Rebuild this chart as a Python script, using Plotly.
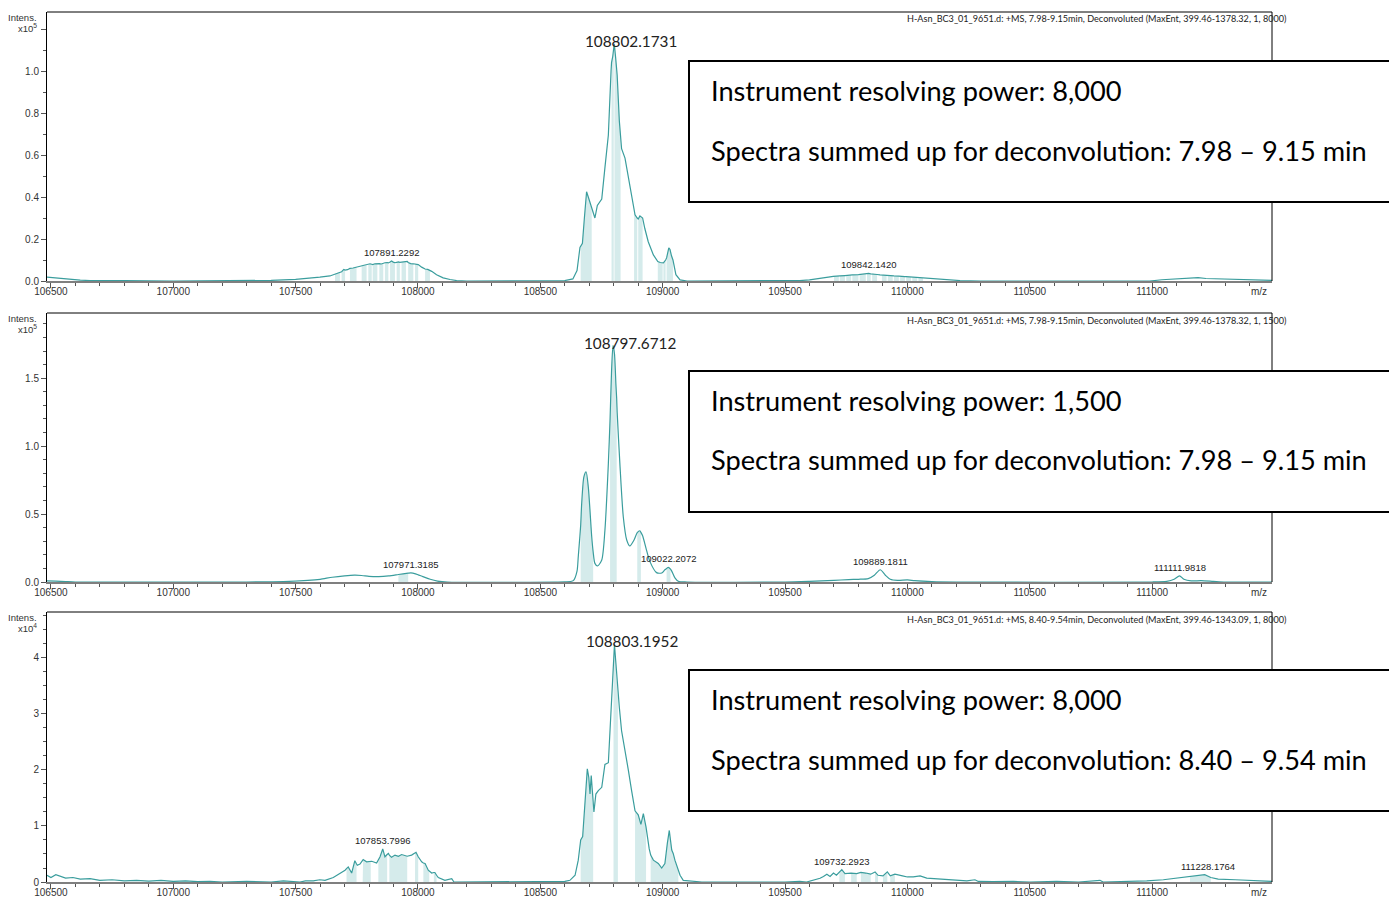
import plotly.graph_objects as go

W, H = 1389, 897
LINE = "#3a9d9d"
FILL = "rgba(150, 205, 205, 0.40)"
TXT = "#333333"

# ---------------- data (x10^5 / x10^5 / x10^4 intensities) ----------------
x_range = [106484, 111490]
x_ticks = [106500, 107000, 107500, 108000, 108500, 109000, 109500, 110000, 110500, 111000]

# Panel 1 : resolving power 8,000
p1_mz = [106484, 106500, 106530, 106560, 106590, 106620, 106660, 106700, 106800, 107000, 107300,
         107400, 107500, 107558, 107599, 107640, 107661, 107668, 107681, 107688, 107697, 107702,
         107712, 107722, 107735, 107749, 107763, 107770, 107783, 107790, 107797, 107804, 107811,
         107815, 107824, 107834, 107842, 107850, 107858, 107865, 107874, 107879, 107886, 107892,
         107899, 107906, 107913, 107920, 107926, 107933, 107942, 107951, 107956, 107960, 107970,
         107981, 107988, 107995, 108001, 108015, 108029, 108040, 108049, 108056, 108076, 108103,
         108131, 108158, 108200, 108560, 108600, 108633, 108650, 108662, 108665, 108672, 108680,
         108689, 108696, 108706, 108710, 108723, 108733, 108751, 108764, 108778, 108789, 108791,
         108796, 108800, 108802, 108803, 108808, 108814, 108823, 108828, 108832, 108846, 108860,
         108873, 108883, 108887, 108896, 108900, 108907, 108918, 108927, 108941, 108962, 108980,
         108990, 109000, 109003, 109012, 109016, 109025, 109030, 109036, 109042, 109054, 109071,
         109100, 109500, 109560, 109600, 109614, 109643, 109684, 109697, 109700, 109720, 109724,
         109745, 109750, 109770, 109775, 109800, 109805, 109830, 109835, 109842, 109850, 109856,
         109876, 109888, 109896, 109915, 109920, 109940, 109945, 109965, 109970, 109990, 109995,
         110015, 110020, 110040, 110045, 110064, 110106, 110161, 110215, 110300, 110990, 111040,
         111100, 111150, 111188, 111220, 111280, 111350, 111420, 111490]
p1_int = [0.018, 0.016, 0.012, 0.010, 0.008, 0.004, 0.002, 0.001, 0.002, 0.0, 0.0,
          0.003, 0.008, 0.012, 0.018, 0.024, 0.033, 0.037, 0.040, 0.044, 0.055, 0.052,
          0.054, 0.060, 0.062, 0.066, 0.071, 0.072, 0.075, 0.076, 0.079, 0.082, 0.080,
          0.078, 0.082, 0.084, 0.083, 0.081, 0.085, 0.087, 0.088, 0.086, 0.090, 0.095,
          0.090, 0.087, 0.089, 0.091, 0.089, 0.090, 0.092, 0.094, 0.093, 0.088, 0.083,
          0.082, 0.081, 0.080, 0.078, 0.066, 0.057, 0.055, 0.052, 0.046, 0.030, 0.015,
          0.007, 0.002, 0.0, 0.0, 0.002, 0.010, 0.050, 0.160, 0.165, 0.180, 0.300,
          0.425, 0.400, 0.360, 0.340, 0.300, 0.360, 0.390, 0.540, 0.695, 1.000, 1.040,
          1.070, 1.100, 1.130, 1.120, 1.060, 0.980, 0.760, 0.680, 0.630, 0.585, 0.490,
          0.395, 0.330, 0.315, 0.300, 0.295, 0.310, 0.300, 0.250, 0.187, 0.124, 0.093,
          0.088, 0.085, 0.086, 0.100, 0.110, 0.158, 0.150, 0.120, 0.100, 0.030, 0.005,
          0.0, 0.0, 0.002, 0.005, 0.008, 0.013, 0.020, 0.022, 0.022, 0.024, 0.024,
          0.026, 0.027, 0.028, 0.029, 0.030, 0.031, 0.033, 0.034, 0.036, 0.034, 0.034,
          0.031, 0.029, 0.028, 0.027, 0.026, 0.024, 0.024, 0.023, 0.022, 0.021, 0.021,
          0.019, 0.018, 0.017, 0.016, 0.014, 0.010, 0.005, 0.002, 0.0, 0.0, 0.006,
          0.010, 0.012, 0.016, 0.012, 0.010, 0.009, 0.006, 0.003]
p1_shade = [(107661, 107681), (107688, 107702), (107722, 107749), (107770, 107790), (107797, 107811),
            (107815, 107834), (107842, 107858), (107865, 107879), (107886, 107906), (107913, 107926),
            (107933, 107951), (107960, 107981), (107988, 108001), (108029, 108049),
            (108665, 108710), (108791, 108800), (108803, 108828), (108883, 108896), (108900, 108918),
            (108980, 109000), (109003, 109012), (109016, 109042),
            (109700, 109720), (109724, 109745), (109750, 109770), (109775, 109800), (109805, 109830),
            (109835, 109850), (109856, 109876), (109896, 109915), (109920, 109940), (109945, 109965),
            (109970, 109990), (109995, 110015), (110020, 110040), (110045, 110064)]
p1_lab_mz = [108802.1731, 107891.2292, 109842.1420]
p1_lab_int = [1.13, 0.095, 0.036]

# Panel 2 : resolving power 1,500
p2_mz = [106484, 106520, 106560, 106600, 107300, 107450, 107550, 107600, 107650, 107700, 107740,
         107770, 107800, 107840, 107880, 107920, 107960, 107971, 107990, 108020, 108050, 108080,
         108120, 108560, 108600, 108635, 108650, 108655, 108665, 108669, 108678, 108687, 108696,
         108710, 108716, 108723, 108734, 108751, 108764, 108778, 108785, 108791, 108797, 108803,
         108809, 108812, 108814, 108825, 108839, 108853, 108866, 108883, 108896, 108907, 108911,
         108918, 108932, 108948, 108975, 108996, 109009, 109016, 109023, 109032, 109037, 109050,
         109064, 109100, 109500, 109600, 109700, 109760, 109800, 109840, 109865, 109889, 109910,
         109930, 109960, 110000, 110030, 110100, 110200, 111000, 111060, 111090, 111112, 111130,
         111160, 111200, 111250, 111300, 111490]
p2_int = [0.008, 0.006, 0.003, 0.0, 0.0, 0.003, 0.012, 0.020, 0.035, 0.045, 0.050,
          0.048, 0.042, 0.040, 0.045, 0.055, 0.065, 0.067, 0.060, 0.040, 0.020, 0.007,
          0.0, 0.0, 0.001, 0.010, 0.080, 0.186, 0.420, 0.578, 0.774, 0.811, 0.700,
          0.333, 0.220, 0.137, 0.118, 0.162, 0.382, 0.873, 1.200, 1.550, 1.740, 1.680,
          1.450, 1.350, 1.250, 0.873, 0.480, 0.309, 0.265, 0.309, 0.363, 0.377, 0.365,
          0.340, 0.248, 0.150, 0.069, 0.066, 0.090, 0.100, 0.108, 0.095, 0.080, 0.030,
          0.005, 0.0, 0.0, 0.005, 0.012, 0.018, 0.020, 0.025, 0.050, 0.090, 0.050,
          0.020, 0.012, 0.015, 0.010, 0.003, 0.0, 0.0, 0.005, 0.020, 0.045, 0.020,
          0.008, 0.010, 0.005, 0.0, 0.0]
p2_shade = [(107920, 107960), (108665, 108716), (108785, 108812), (108896, 108911), (109016, 109032)]
p2_lab_mz = [108797.6712, 107971.3185, 109022.2072, 109889.1811, 111111.9818]
p2_lab_int = [1.74, 0.067, 0.108, 0.090, 0.045]

# Panel 3 : resolving power 8,000, 8.40-9.54 min
p3_mz = [106484, 106500, 106520, 106540, 106560, 106590, 106620, 106660, 106700, 106750, 106800,
         106850, 106900, 106950, 107000, 107050, 107100, 107150, 107200, 107300, 107400, 107450,
         107518, 107540, 107572, 107599, 107620, 107654, 107681, 107702, 107708, 107715, 107729,
         107742, 107749, 107752, 107763, 107774, 107776, 107790, 107807, 107811, 107831, 107838,
         107845, 107856, 107865, 107874, 107879, 107883, 107892, 107906, 107920, 107933, 107954,
         107956, 107974, 107988, 107992, 108001, 108015, 108022, 108029, 108042, 108046, 108056,
         108065, 108069, 108076, 108083, 108110, 108138, 108147, 108200, 108560, 108600, 108621,
         108642, 108655, 108665, 108673, 108680, 108687, 108692, 108698, 108703, 108708, 108714,
         108716, 108719, 108727, 108737, 108751, 108764, 108778, 108787, 108796, 108799, 108803,
         108808, 108814, 108817, 108823, 108832, 108846, 108860, 108873, 108887, 108900, 108911,
         108921, 108932, 108945, 108951, 108962, 108982, 108996, 109009, 109019, 109027, 109037,
         109043, 109050, 109060, 109064, 109071, 109084, 109125, 109160, 109500, 109560, 109588,
         109616, 109643, 109657, 109671, 109684, 109698, 109710, 109722, 109732, 109745, 109770,
         109793, 109810, 109830, 109850, 109868, 109880, 109900, 109918, 109930, 109949, 109980,
         110000, 110024, 110052, 110079, 110133, 110188, 110243, 110276, 110290, 110350, 110433,
         110500, 110610, 110700, 110787, 110800, 110900, 110978, 111046, 111101, 111155, 111215,
         111240, 111270, 111340, 111400, 111450, 111490]
p3_int = [0.12, 0.08, 0.13, 0.10, 0.07, 0.08, 0.05, 0.06, 0.03, 0.04, 0.02,
          0.03, 0.015, 0.03, 0.01, 0.02, 0.005, 0.01, 0.0, 0.01, 0.0, 0.02,
          0.0, 0.02, 0.02, 0.04, 0.03, 0.08, 0.15, 0.21, 0.24, 0.27, 0.16,
          0.38, 0.32, 0.30, 0.32, 0.38, 0.40, 0.36, 0.37, 0.37, 0.34, 0.40,
          0.45, 0.59, 0.45, 0.49, 0.51, 0.48, 0.44, 0.48, 0.46, 0.49, 0.46,
          0.46, 0.48, 0.51, 0.53, 0.45, 0.36, 0.34, 0.33, 0.21, 0.19, 0.16,
          0.17, 0.17, 0.12, 0.08, 0.03, 0.06, 0.0, 0.0, 0.0, 0.01, 0.03,
          0.12, 0.39, 0.75, 0.81, 1.28, 1.87, 2.02, 1.87, 1.57, 1.90, 1.50,
          1.35, 1.25, 1.57, 1.63, 1.69, 2.10, 2.13, 2.99, 3.70, 3.90, 4.24,
          3.95, 3.60, 3.30, 3.11, 2.70, 2.37, 1.99, 1.63, 1.27, 1.20, 1.03,
          1.22, 0.98, 0.59, 0.48, 0.39, 0.33, 0.25, 0.33, 0.69, 0.92, 0.57,
          0.51, 0.39, 0.25, 0.20, 0.12, 0.03, 0.02, 0.0, 0.0, 0.01, 0.0,
          0.03, 0.066, 0.10, 0.14, 0.10, 0.16, 0.12, 0.18, 0.22, 0.15, 0.16,
          0.15, 0.17, 0.16, 0.14, 0.18, 0.12, 0.11, 0.18, 0.11, 0.14, 0.11,
          0.09, 0.09, 0.11, 0.07, 0.05, 0.03, 0.02, 0.04, 0.01, 0.005, 0.01,
          0.0, 0.01, 0.0, 0.03, 0.0, 0.01, 0.02, 0.04, 0.07, 0.10, 0.13,
          0.08, 0.05, 0.04, 0.03, 0.02, 0.01]
p3_shade = [(107708, 107749), (107774, 107807), (107838, 107874), (107883, 107956), (107988, 108001),
            (108022, 108046), (108065, 108076),
            (108665, 108716), (108799, 108817), (108887, 108932), (108951, 109064),
            (109722, 109745), (109770, 109793), (109810, 109850), (109868, 109880), (109900, 109918),
            (109930, 109949), (111155, 111240)]
p3_lab_mz = [108803.1952, 107853.7996, 109732.2923, 111228.1764]
p3_lab_int = [4.24, 0.59, 0.22, 0.13]

# y tick values (labelled) and an extra unlabelled major tick where the exponent sits
p1_yticks = [0.0, 0.2, 0.4, 0.6, 0.8, 1.0]
p2_yticks = [0.0, 0.5, 1.0, 1.5]
p3_yticks = [0, 1, 2, 3, 4]
p1_yticks_hidden = [1.2]

headers = [
    "H-Asn_BC3_01_9651.d: +MS, 7.98-9.15min, Deconvoluted (MaxEnt, 399.46-1378.32, 1, 8000)",
    "H-Asn_BC3_01_9651.d: +MS, 7.98-9.15min, Deconvoluted (MaxEnt, 399.46-1378.32, 1, 1500)",
    "H-Asn_BC3_01_9651.d: +MS, 8.40-9.54min, Deconvoluted (MaxEnt, 399.46-1343.09, 1, 8000)",
]
box_lines = [
    ("Instrument resolving power: 8,000", "Spectra summed up for deconvolution: 7.98 – 9.15 min"),
    ("Instrument resolving power: 1,500", "Spectra summed up for deconvolution: 7.98 – 9.15 min"),
    ("Instrument resolving power: 8,000", "Spectra summed up for deconvolution: 8.40 – 9.54 min"),
]
exponents = ["5", "5", "4"]

# ---------------- layout geometry (pixels) ----------------
X_L, X_R = 47, 1272
panel_px = [(12, 281), (313, 582), (612, 882)]
y_max = [1.281, 1.98, 4.82]
y_minor = [0.1, 0.1, 0.25]
y_fmt = ["{:.1f}", "{:.1f}", "{:.0f}"]
box_px = [(61, 202), (371, 512), (670, 811)]

def pxx(p):
    return p / W

def pxy(p):
    return 1 - p / H

panels = [
    (p1_mz, p1_int, p1_shade, p1_lab_mz, p1_lab_int, p1_yticks, p1_yticks_hidden),
    (p2_mz, p2_int, p2_shade, p2_lab_mz, p2_lab_int, p2_yticks, []),
    (p3_mz, p3_int, p3_shade, p3_lab_mz, p3_lab_int, p3_yticks, []),
]

fig = go.Figure()
annotations = []
shapes = []
FONT_AX = "Liberation Sans"

for i, (mz, inten, shade, lab_mz, lab_int, yt, yt_hidden) in enumerate(panels):
    n = "" if i == 0 else str(i + 1)
    xa, ya = "x" + n, "y" + n
    # shaded (peak-picked) areas under the curve
    for lo, hi in shade:
        pts = [(m, v) for m, v in zip(mz, inten) if lo <= m <= hi]
        if len(pts) < 2:
            continue
        xs = [pts[0][0]] + [p[0] for p in pts] + [pts[-1][0]]
        ys = [0] + [p[1] for p in pts] + [0]
        fig.add_trace(go.Scatter(x=xs, y=ys, xaxis=xa, yaxis=ya, mode="lines",
                                 fill="toself", fillcolor=FILL, line=dict(width=0),
                                 hoverinfo="skip", showlegend=False))
    fig.add_trace(go.Scatter(x=mz, y=inten, xaxis=xa, yaxis=ya, mode="lines",
                             line=dict(color=LINE, width=1.2,
                                       shape="spline" if i == 1 else "linear",
                                       smoothing=0.7),
                             showlegend=False))
    top, bot = panel_px[i]
    dom_y = [pxy(bot), pxy(top)]
    tickvals = list(yt) + list(yt_hidden)
    ticktext = [y_fmt[i].format(v) for v in yt] + [""] * len(yt_hidden)
    fig.update_layout(**{
        ("xaxis" + n): dict(domain=[pxx(X_L), pxx(X_R)], anchor=ya, range=x_range,
                            automargin=False,
                            tickvals=x_ticks, tickformat="d", showgrid=False, zeroline=False,
                            showline=True, linecolor="#7f7f7f", linewidth=2,
                            ticks="outside", ticklen=5, tickcolor="#555", tickwidth=1,
                            ticklabelstandoff=-5,
                            minor=dict(dtick=100, tick0=106500, ticklen=3, ticks="outside",
                                       tickcolor="#555", showgrid=False),
                            tickfont=dict(family=FONT_AX, size=10, color=TXT)),
        ("yaxis" + n): dict(domain=dom_y, anchor=xa, range=[0, y_max[i]],
                            tickmode="array", tickvals=tickvals, ticktext=ticktext,
                            automargin=False, showgrid=False, zeroline=False,
                            showline=True, linecolor="black", linewidth=1,
                            ticks="outside", ticklen=5, tickcolor="#555",
                            minor=dict(dtick=y_minor[i], tick0=0, ticklen=3, ticks="outside",
                                       tickcolor="#555", showgrid=False),
                            tickfont=dict(family=FONT_AX, size=10, color=TXT)),
    })
    # frame: top and right border
    shapes.append(dict(type="line", xref=xa + " domain", yref=ya + " domain",
                       x0=0, x1=1, y0=1, y1=1, line=dict(color="black", width=1)))
    shapes.append(dict(type="line", xref=xa + " domain", yref=ya + " domain",
                       x0=1, x1=1, y0=0, y1=1, line=dict(color="black", width=1)))
    # text box
    b0, b1 = box_px[i]
    shapes.append(dict(type="rect", xref="paper", yref="paper", x0=pxx(689), x1=pxx(1400),
                       y0=pxy(b1), y1=pxy(b0), line=dict(color="black", width=2),
                       fillcolor="white", layer="above"))
    for k, line_txt in enumerate(box_lines[i]):
        annotations.append(dict(xref="paper", yref="paper", x=pxx(709),
                                y=pxy(b0 + 29 + 60 * k), xanchor="left", yanchor="middle",
                                text=line_txt, showarrow=False,
                                font=dict(family="Lato", size=27.2, color="black")))
    # header
    annotations.append(dict(xref="paper", yref="paper", x=pxx(1289), y=pxy(top + 7),
                            xanchor="right", yanchor="middle", text=headers[i],
                            showarrow=False, font=dict(family="Lato", size=9.1, color="#222")))
    # Intens. label
    annotations.append(dict(xref="paper", yref="paper", x=pxx(39), y=pxy(top + 5),
                            xanchor="right", yanchor="middle", text="Intens.",
                            showarrow=False, font=dict(family=FONT_AX, size=9.5, color=TXT)))
    annotations.append(dict(xref="paper", yref="paper", x=pxx(39), y=pxy(top + 16),
                            xanchor="right", yanchor="middle",
                            text="x10<sup>" + exponents[i] + "</sup>",
                            showarrow=False, font=dict(family=FONT_AX, size=9.5, color=TXT)))
    # m/z label
    annotations.append(dict(xref=xa + " domain", yref=ya + " domain", x=1, y=0,
                            xanchor="right", yanchor="top", xshift=-3, yshift=-3,
                            text="m/z", showarrow=False,
                            font=dict(family=FONT_AX, size=10, color=TXT)))
    # peak labels
    for j, (lm, li) in enumerate(zip(lab_mz, lab_int)):
        if j == 0:
            annotations.append(dict(xref=xa, yref=ya, x=lm, y=li, xanchor="center",
                                    yanchor="middle", xshift=17, yshift=3,
                                    text=f"{lm:.4f}", showarrow=False,
                                    font=dict(family="Lato", size=15.3, color="#222")))
        else:
            annotations.append(dict(xref=xa, yref=ya, x=lm, y=li, xanchor="center",
                                    yanchor="bottom", yshift=1,
                                    text=f"{lm:.4f}", showarrow=False,
                                    font=dict(family=FONT_AX, size=9.5, color="#222")))

fig.update_layout(template="none", width=W, height=H, margin=dict(l=0, r=0, t=0, b=0),
                  paper_bgcolor="white", plot_bgcolor="white",
                  annotations=annotations, shapes=shapes, showlegend=False)

fig.write_html("out.html", config={"displayModeBar": False},
               post_script="document.body.style.margin='0px';document.body.style.overflow='hidden';")
